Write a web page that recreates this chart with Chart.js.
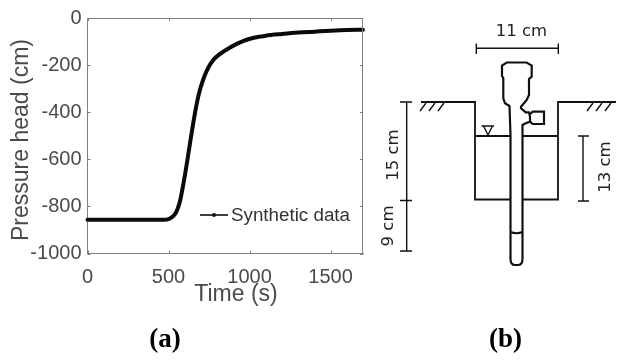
<!DOCTYPE html>
<html><head><meta charset="utf-8">
<style>html,body{margin:0;padding:0;background:#fff;width:618px;height:362px;overflow:hidden}
#wrap{position:relative;width:618px;height:362px}
canvas{position:absolute;left:0;top:0}
svg{position:absolute;left:0;top:0}</style>
<script src="https://cdn.jsdelivr.net/npm/chart.js@4/dist/chart.umd.min.js"></script>
</head><body><div id="wrap"><canvas id="c" width="618" height="362"></canvas>
<svg width="618" height="362" viewBox="0 0 618 362" fill="none" stroke="#111" stroke-width="1.8">
<path d="M421 102H475V199.500H510M523 199.500H558V102H616"/>
<path d="M475 136H510M523 136H558"/>
<path d="M420 111l6-8M429 111l6-8M438 111l6-8M587 111l6-8M596 111l6-8M605 111l6-8" stroke-width="1.400"/>
<path d="M476.300 48.300H558.300M476.300 43.500V54M558.300 43.500V54" stroke-width="1.400"/>
<path d="M406.700 102V251M400 102H412M400 200.500H412M400 251H412" stroke-width="1.400"/>
<path d="M583 136V201M578 136H589M578 201H589" stroke-width="1.400"/>
<path d="M481.500 126H494M483.500 126L488 135L492.500 126" stroke-width="1.400"/>
<path d="M510.500 135V259Q510.500 265 515 265H518Q522.500 265 522.500 259V135M510.500 232Q516.500 234.500 522.500 232" stroke-width="2.200"/>
<path d="M510.500 135L509.500 106L505 103.300L503.300 98.300V78L502 76V65.500L506.700 62.500H526.700L531.700 65.500V76.700L529 79V95L526.700 100L521 106.700V108.300L525.700 112.300H529L530 116.700V121.700L525.700 123.300L522.500 125V135" stroke-width="2.200"/>
<path d="M530 114.300L532.700 111.700H544V124H532.700L530 121.700" stroke-width="2.200"/>
<g fill="#222" stroke="none" font-family="DejaVu Sans" font-size="16.500">
<text x="521.500" y="36" text-anchor="middle">11 cm</text>
<text transform="translate(398 155) rotate(-90)" text-anchor="middle">15 cm</text>
<text transform="translate(393 226) rotate(-90)" text-anchor="middle">9 cm</text>
<text transform="translate(610 167) rotate(-90)" text-anchor="middle">13 cm</text>
</g>
<g fill="#000" stroke="none" font-family="Liberation Serif" font-weight="bold" font-size="27">
<text x="165" y="347" text-anchor="middle">(a)</text>
<text x="505.500" y="347" text-anchor="middle">(b)</text>
</g>
</svg></div>
<script>
const timeValues=[0,200,400,468,509,540,555,571,591,612,633,654,675,694,710,725,750,776,800,838,880,921,960,1003,1064,1100,1200,1300,1400,1500,1600,1700];
const pressureHead=[-857,-857,-857,-857,-851,-833,-812,-777,-707,-622,-530,-440,-360,-305,-270,-241,-205,-178,-162,-143,-125,-110,-98,-88,-79,-75,-68,-62,-58,-54,-51,-50];
const xTicks=[0,500,1000,1500];
const yTicks=[0,-200,-400,-600,-800,-1000];
const seriesName='Synthetic data';
const xTitle='Time (s)';
const yTitle='Pressure head (cm)';
const gray='#4a4a4a';
const decor={id:'decor',afterDatasetsDraw(ch){
 const {ctx,chartArea:a,scales:{x,y}}=ch;ctx.save();
 ctx.strokeStyle='#808080';ctx.lineWidth=1;ctx.beginPath();
 xTicks.forEach(v=>{const p=Math.round(x.getPixelForValue(v))+.5;ctx.moveTo(p,a.bottom);ctx.lineTo(p,a.bottom-3);ctx.moveTo(p,a.top);ctx.lineTo(p,a.top+3);});
 yTicks.forEach(v=>{const p=Math.round(y.getPixelForValue(v))+.5;ctx.moveTo(a.left,p);ctx.lineTo(a.left+3,p);ctx.moveTo(a.right,p);ctx.lineTo(a.right-3,p);});
 ctx.moveTo(a.left,a.top+.5);ctx.lineTo(a.right,a.top+.5);ctx.moveTo(a.right-.5,a.top);ctx.lineTo(a.right-.5,a.bottom);
 ctx.stroke();
 ctx.strokeStyle='#111';ctx.lineWidth=1.6;ctx.beginPath();ctx.moveTo(200,215);ctx.lineTo(228,215);ctx.stroke();
 ctx.fillStyle='#111';ctx.beginPath();ctx.arc(214,215,2,0,7);ctx.fill();
 ctx.fillStyle='#333';ctx.font='18.800px "Liberation Sans"';ctx.textBaseline='middle';ctx.textAlign='left';ctx.fillText(seriesName,231,216);
 ctx.fillStyle=gray;ctx.font='23px "Liberation Sans"';ctx.textAlign='center';
 ctx.fillText(xTitle,236,295);
 ctx.translate(22,140);ctx.rotate(-Math.PI/2);ctx.fillText(yTitle,0,0);
 ctx.restore();}};
new Chart(document.getElementById('c'),{type:'line',
 data:{labels:timeValues,datasets:[{label:seriesName,data:timeValues.map((t,i)=>({x:t,y:pressureHead[i]})),borderColor:'#0a0a0a',borderWidth:4,pointRadius:0,cubicInterpolationMode:'monotone',clip:false,borderCapStyle:'round'}]},
 plugins:[decor],
 options:{responsive:false,animation:false,
  layout:{padding:{left:0,top:15.500,right:255,bottom:0}},
  plugins:{legend:{display:false},tooltip:{enabled:false}},
  scales:{
   x:{type:'linear',min:0,max:1700,afterFit(s){s.height=108.500},afterBuildTicks(s){s.ticks=xTicks.map(v=>({value:v}))},
      grid:{drawOnChartArea:false,drawTicks:false},border:{color:'#808080',width:1},
      ticks:{color:gray,font:{family:'Liberation Sans',size:20},maxRotation:0,padding:12,callback:v=>String(v)}},
   y:{type:'linear',min:-1000,max:0,afterFit(s){s.width=87.500},afterBuildTicks(s){s.ticks=yTicks.map(v=>({value:v}))},
      grid:{drawOnChartArea:false,drawTicks:false},border:{color:'#808080',width:1},
      ticks:{color:gray,font:{family:'Liberation Sans',size:20},padding:6,callback:v=>String(v)}}
  }}});
</script></body></html>
